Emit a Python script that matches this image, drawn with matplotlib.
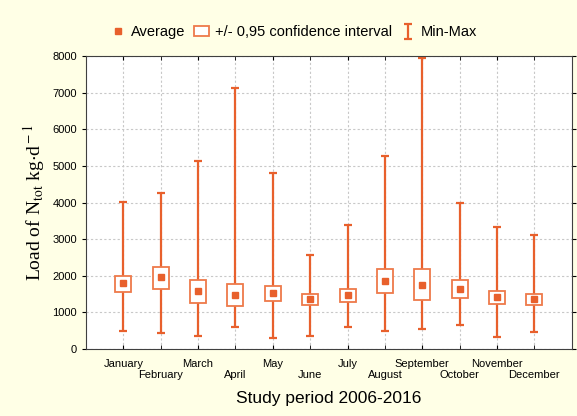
import numpy as np
import matplotlib.pyplot as plt

# monthly load of N_tot, 2006-2016
months = ["January", "February", "March", "April", "May", "June",
          "July", "August", "September", "October", "November", "December"]
average = [1795, 1960, 1575, 1465, 1520, 1355, 1465, 1850, 1740, 1630, 1410, 1355]
ci_low = [1550, 1650, 1250, 1175, 1300, 1200, 1290, 1520, 1340, 1385, 1220, 1210]
ci_high = [2000, 2250, 1890, 1775, 1720, 1510, 1640, 2185, 2185, 1875, 1575, 1510]
min_val = [490, 430, 350, 590, 290, 355, 610, 500, 555, 655, 330, 465]
max_val = [4020, 4250, 5130, 7140, 4820, 2560, 3390, 5270, 7940, 3980, 3325, 3115]

orange = "#E8602C"
box_edge = "#EE7A4A"
bg = "#FFFFE6"

plt.rcParams['font.family'] = ['Liberation Sans', 'DejaVu Sans']
plt.rcParams['mathtext.fontset'] = 'stix'

fig = plt.figure(figsize=(5.77, 4.16), dpi=100, facecolor=bg)
ax = fig.add_axes([0.149, 0.161, 0.842, 0.704])
ax.set_facecolor("white")

x = np.arange(1, len(months) + 1)
avg = np.array(average)
lo = np.array(min_val)
hi = np.array(max_val)

eb = ax.errorbar(x, avg, yerr=[avg - lo, hi - avg], fmt='none', ecolor=orange,
                 elinewidth=1.6, capsize=3, capthick=1.6, zorder=2)
bx = ax.bar(x, np.array(ci_high) - np.array(ci_low), bottom=ci_low, width=0.43,
            facecolor="white", edgecolor=box_edge, linewidth=1.3, zorder=3)
mn, = ax.plot(x, avg, 's', color=orange, ms=4, zorder=4, linestyle='none')

ax.set_xlim(0, 13)
ax.set_ylim(0, 8000)
ax.set_yticks(range(0, 8001, 1000))
# staggered month labels: odd months on the first row, even months lower
ax.set_xticks(x[::2])
ax.set_xticklabels(months[::2], fontsize=8)
ax.set_xticks(x[1::2], minor=True)
ax.set_xticklabels(months[1::2], minor=True, fontsize=8)
ax.tick_params(axis='x', which='major', direction='in', top=True, length=3, pad=7)
ax.tick_params(axis='x', which='minor', direction='in', top=True, length=3, pad=15)
ax.tick_params(axis='y', direction='out', right=True, length=3, labelsize=8)
ax.grid(True, which='both', axis='x', linestyle=(0, (2, 2)), color="#c8c8c8", linewidth=0.8)
ax.grid(True, axis='y', linestyle=(0, (2, 2)), color="#c8c8c8", linewidth=0.8)
ax.set_axisbelow(True)
for s in ax.spines.values():
    s.set_color("#404040")

ax.set_xlabel("Study period 2006-2016", fontsize=12.5)
ax.xaxis.set_label_coords(0.5, -0.145)
ax.set_ylabel(r"Load of N$_{\rm tot}$ kg$\cdot$d$^{\rm -1}$", fontsize=14,
              family=['Liberation Serif', 'DejaVu Serif'])

fig.legend(handles=[mn, bx, eb], labels=["Average", "+/- 0,95 confidence interval", "Min-Max"],
           loc='center', bbox_to_anchor=(0.51, 0.922), ncol=3, frameon=False,
           fontsize=10.5, handlelength=1.0, handletextpad=0.4, columnspacing=0.6)

fig.savefig("out.png", dpi=100, facecolor=bg)
